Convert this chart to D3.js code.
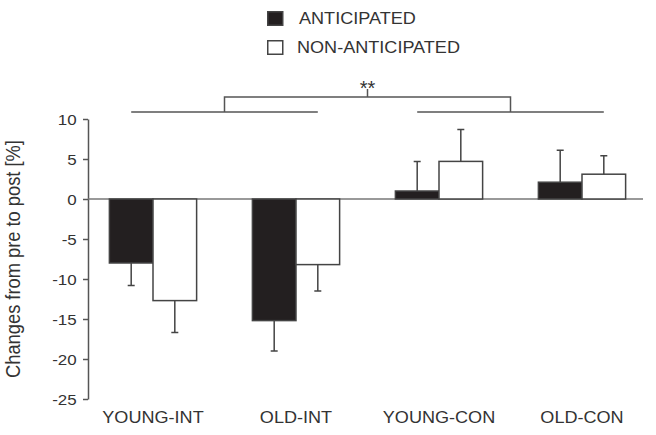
<!DOCTYPE html>
<html><head><meta charset="utf-8">
<script src="https://cdn.jsdelivr.net/npm/d3@7"></script>
<style>body{margin:0;background:#fff}text{font-family:Arial,"Liberation Sans",sans-serif;fill:#333}</style>
</head><body><svg id="c" width="656" height="435"></svg>
<script>
const categories = ["YOUNG-INT","OLD-INT","YOUNG-CON","OLD-CON"];
const seriesNames = ["ANTICIPATED","NON-ANTICIPATED"];
const anticipated = [-8.0, -15.2, 1.0, 2.1];
const anticipatedSD = [2.8, 3.8, 3.7, 4.0];
const nonAnticipated = [-12.7, -8.2, 4.7, 3.1];
const nonAnticipatedSD = [4.0, 3.3, 4.0, 2.3];
const yTicks = [10,5,0,-5,-10,-15,-20,-25];
const yTitle = "Changes from pre to post [%]";
const sigLabel = "**";

const SX = 1.13;
const svg = d3.select("#c");
const y = d3.scaleLinear().domain([-25,10]).range([399,119]);
const x0 = d3.scaleBand().domain(categories).range([81.5,653.5]).paddingInner(0.39).paddingOuter(0.195);
const x1 = d3.scaleBand().domain(seriesNames).range([0,x0.bandwidth()]);
const fills = {"ANTICIPATED":"#231f20","NON-ANTICIPATED":"#fff"};
const data = categories.map((c,i)=>({c, vals:[
  {s:"ANTICIPATED", v:anticipated[i], sd:anticipatedSD[i]},
  {s:"NON-ANTICIPATED", v:nonAnticipated[i], sd:nonAnticipatedSD[i]}]}));

// y axis
const ax = svg.append("g").attr("transform","translate(88,0)")
  .call(d3.axisLeft(y).tickValues(yTicks).tickFormat(d=>String(d)).tickSize(5).tickSizeOuter(0).tickPadding(5));
ax.select(".domain").attr("stroke","#555").attr("stroke-width",1.5);
ax.selectAll(".tick line").attr("stroke","#555").attr("stroke-width",1.5);
ax.selectAll(".tick text").style("font-size","15px").attr("fill","#333")
  .attr("transform",`scale(${SX},1)`).attr("dy","0.36em");

// zero line
svg.append("line").attr("x1",88).attr("x2",643).attr("y1",y(0)).attr("y2",y(0))
  .attr("stroke","#777").attr("stroke-width",1.5);

// bars
const g = svg.selectAll(".grp").data(data).join("g").attr("transform",d=>`translate(${x0(d.c)},0)`);
g.selectAll("rect").data(d=>d.vals).join("rect")
  .attr("x",d=>x1(d.s)).attr("width",x1.bandwidth())
  .attr("y",d=>y(Math.max(0,d.v))).attr("height",d=>Math.abs(y(d.v)-y(0)))
  .attr("fill",d=>fills[d.s]).attr("stroke","#444").attr("stroke-width",1.5);
// error bars
g.selectAll(".err").data(d=>d.vals).join("path").attr("class","err")
  .attr("d",d=>{const cx=x1(d.s)+x1.bandwidth()/2; const e=d.v<0? d.v-d.sd : d.v+d.sd;
    return `M${cx},${y(d.v)}V${y(e)}M${cx-3.5},${y(e)}H${cx+3.5}`;})
  .attr("stroke","#444").attr("stroke-width",1.5).attr("fill","none");

// category labels
svg.selectAll(".cat").data(categories).join("text").attr("class","cat")
  .attr("transform",d=>`translate(${x0(d)+x0.bandwidth()/2},423) scale(${SX},1)`)
  .attr("text-anchor","middle").style("font-size","16px").text(d=>d);

// y title
svg.append("text").attr("transform","translate(20,259) rotate(-90) scale(1,"+SX+")")
  .attr("text-anchor","middle").style("font-size","18.3px").text(yTitle);

// legend
const lg = svg.selectAll(".lg").data(seriesNames).join("g").attr("class","lg")
  .attr("transform",(d,i)=>`translate(267,${11+i*29})`);
lg.append("rect").attr("x",0.75).attr("y",0.75).attr("width",15).attr("height",13.5)
  .attr("fill",d=>fills[d]).attr("stroke","#444").attr("stroke-width",1.5);
lg.append("text").attr("transform",(d,i)=>`translate(${i?30:32},13) scale(${SX},1)`)
  .style("font-size","16px").text(d=>d);

// significance bracket
const cA = c=>x0(c)+x1("ANTICIPATED")+x1.bandwidth()/2;
const cN = c=>x0(c)+x1("NON-ANTICIPATED")+x1.bandwidth()/2;
const L1=cA(categories[0]), L2=cN(categories[1]), R1=cA(categories[2]), R2=cN(categories[3]);
const yl=112, yb=97;
const br = svg.append("g").attr("stroke","#555").attr("stroke-width",1.5).attr("fill","none");
br.append("path").attr("d",`M${L1},${yl}H${L2}M${R1},${yl}H${R2}`);
const lm=(L1+L2)/2, rm=(R1+R2)/2, mm=(lm+rm)/2;
br.append("path").attr("d",`M${lm},${yl}V${yb}H${rm}V${yl}M${mm},${yb}V${yb-8}`);
svg.append("text").attr("x",mm).attr("y",95).attr("text-anchor","middle")
  .style("font-size","20px").text(sigLabel);
</script></body></html>
